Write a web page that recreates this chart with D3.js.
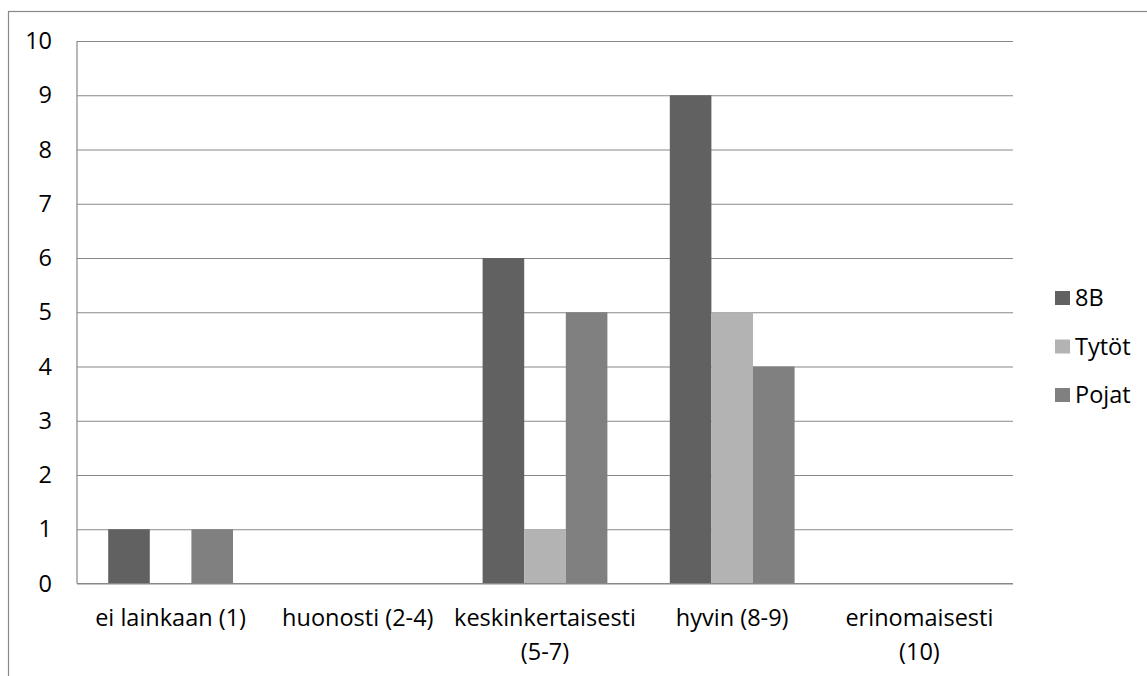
<!DOCTYPE html>
<html>
<head>
<meta charset="utf-8">
<script src="https://cdn.jsdelivr.net/npm/d3@7/dist/d3.min.js"></script>
<style>
  html, body { margin: 0; padding: 0; background: #fff; }
  svg { display: block; }
  text { font-family: "Open Sans", Lato, sans-serif; fill: #000; }
</style>
</head>
<body>
<svg id="chart" width="1147" height="676"></svg>
<script>
const categories = [["ei lainkaan (1)"], ["huonosti (2-4)"], ["keskinkertaisesti", "(5-7)"], ["hyvin (8-9)"], ["erinomaisesti", "(10)"]];
const seriesNames = ["8B", "Tytöt", "Pojat"];
const values8B    = [1, 0, 6, 9, 0];
const valuesTytot = [0, 0, 1, 5, 0];
const valuesPojat = [1, 0, 5, 4, 0];
const yTicks = [0, 1, 2, 3, 4, 5, 6, 7, 8, 9, 10];
const colors = ["#616161", "#b3b3b3", "#808080"];

(function () {
const seriesValues = [values8B, valuesTytot, valuesPojat];
const catKeys = categories.map((c, i) => i);

const svg = d3.select("#chart");
const fontSize = 23.5;

// outer chart border
svg.append("rect")
  .attr("x", 8.5).attr("y", 11.5)
  .attr("width", 1150).attr("height", 700)
  .attr("fill", "none").attr("stroke", "#898989").attr("stroke-width", 1.2);

const pLeft = 77, pRight = 1013, pTop = 41, pBottom = 583.5;

const x0 = d3.scaleBand().domain(catKeys).range([pLeft, pRight]).padding(0);
const x1 = d3.scaleBand().domain(d3.range(seriesNames.length))
  .range([x0.bandwidth() / 6, x0.bandwidth() * 5 / 6]).padding(0);
const y = d3.scaleLinear().domain([0, 10]).range([pBottom, pTop]);

// gridlines
const grid = svg.append("g")
  .attr("transform", `translate(${pLeft},0)`)
  .call(d3.axisLeft(y).tickValues(yTicks).tickSize(-(pRight - pLeft)).tickFormat(""));
grid.select(".domain").remove();
grid.selectAll(".tick line").attr("stroke", "#888").attr("stroke-width", 1.2);

// bars
const groups = svg.append("g").selectAll("g")
  .data(catKeys).join("g")
  .attr("transform", d => `translate(${x0(d)},0)`);
groups.selectAll("rect")
  .data(ci => seriesValues.map((vals, si) => ({ si, v: vals[ci] })))
  .join("rect")
  .filter(d => d.v > 0)
  .attr("x", d => x1(d.si))
  .attr("width", x1.bandwidth())
  .attr("y", d => y(d.v))
  .attr("height", d => y(0) - y(d.v))
  .attr("fill", d => colors[d.si]);

// y axis line
svg.append("line")
  .attr("x1", pLeft).attr("x2", pLeft).attr("y1", pTop).attr("y2", pBottom)
  .attr("stroke", "#888").attr("stroke-width", 1.2);
// x axis line
svg.append("line")
  .attr("x1", pLeft).attr("x2", pRight).attr("y1", pBottom).attr("y2", pBottom)
  .attr("stroke", "#888").attr("stroke-width", 1.2);

// y tick labels
svg.append("g").selectAll("text")
  .data(yTicks).join("text")
  .attr("x", 52).attr("y", d => y(d))
  .attr("dy", "0.35em")
  .attr("text-anchor", "end")
  .attr("font-size", fontSize)
  .text(d => d);

// x category labels
const xl = svg.append("g").selectAll("text")
  .data(catKeys).join("text")
  .attr("x", d => x0(d) + x0.bandwidth() / 2)
  .attr("y", 626)
  .attr("text-anchor", "middle")
  .attr("font-size", fontSize);
xl.selectAll("tspan")
  .data(d => categories[d])
  .join("tspan")
  .attr("x", function () { return d3.select(this.parentNode).attr("x"); })
  .attr("dy", (d, i) => i === 0 ? 0 : 34)
  .text(d => d);

// legend
const leg = svg.append("g").selectAll("g")
  .data(seriesNames).join("g")
  .attr("transform", (d, i) => `translate(1055, ${298 + i * 48.5})`);
leg.append("rect")
  .attr("x", 0).attr("y", -7).attr("width", 15).attr("height", 14)
  .attr("fill", (d, i) => colors[i]);
leg.append("text")
  .attr("x", 20).attr("y", 0).attr("dy", "0.35em")
  .attr("font-size", fontSize)
  .text(d => d);
})();
</script>
</body>
</html>
